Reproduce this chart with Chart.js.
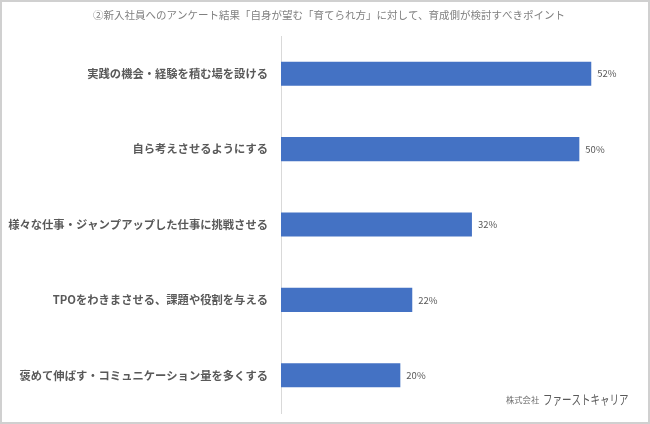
<!DOCTYPE html>
<html lang="ja">
<head>
<meta charset="utf-8">
<script src="https://cdn.jsdelivr.net/npm/chart.js@4"></script>
<style>
  html, body { margin: 0; padding: 0; background: #fff; }
  canvas { display: block; }
</style>
</head>
<body>
<canvas id="chart" width="650" height="424"></canvas>
<script>
// データ
const chartTitle = '②新入社員へのアンケート結果「自身が望む「育てられ方」に対して、育成側が検討すべきポイント';
const categories = [
    '実践の機会・経験を積む場を設ける',
    '自ら考えさせるようにする',
    '様々な仕事・ジャンプアップした仕事に挑戦させる',
    'TPOをわきまさせる、課題や役割を与える',
    '褒めて伸ばす・コミュニケーション量を多くする'
];
const values = [52, 50, 32, 22, 20];
const companySmall = '株式会社';
const companyName = 'ファーストキャリア';

const FONT = '"Noto Sans CJK JP", "Noto Sans", sans-serif';

// タイトル・数値ラベル・ロゴ・枠線を描くプラグイン
const decorPlugin = {
    id: 'decor',
    afterDatasetsDraw(chart) {
        const ctx = chart.ctx;
        const meta = chart.getDatasetMeta(0);
        ctx.save();
        ctx.font = '9.5px ' + FONT;
        ctx.fillStyle = '#595959';
        ctx.textAlign = 'left';
        ctx.textBaseline = 'middle';
        meta.data.forEach((bar, i) => {
            ctx.fillText(values[i] + '%', bar.x + 6, bar.y);
        });
        ctx.restore();
    },
    afterDraw(chart) {
        const ctx = chart.ctx;
        ctx.save();
        // タイトル
        ctx.font = '10.5px ' + FONT;
        ctx.fillStyle = '#808080';
        ctx.textAlign = 'center';
        ctx.textBaseline = 'middle';
        ctx.fillText(chartTitle, 329, 15);
        // ロゴ
        ctx.textAlign = 'left';
        ctx.textBaseline = 'alphabetic';
        ctx.fillStyle = '#6b6b6b';
        ctx.font = '8.3px ' + FONT;
        ctx.fillText(companySmall, 506, 403);
        ctx.font = '13px ' + FONT;
        ctx.fillStyle = '#595959';
        ctx.translate(543, 404);
        ctx.scale(0.73, 1);
        ctx.fillText(companyName, 0, 0);
        ctx.restore();
        // 枠線
        ctx.save();
        ctx.strokeStyle = '#d0d0d0';
        ctx.lineWidth = 2;
        ctx.strokeRect(1, 1, 648, 422);
        ctx.restore();
    }
};

new Chart(document.getElementById('chart'), {
    type: 'bar',
    data: {
        labels: categories,
        datasets: [{
            data: values,
            backgroundColor: '#4472C4',
            borderWidth: 0,
            barPercentage: 0.8,
            categoryPercentage: 0.4
        }]
    },
    options: {
        indexAxis: 'y',
        responsive: false,
        animation: false,
        events: [],
        layout: { padding: { top: 36, right: 11, bottom: 11, left: 0 } },
        plugins: {
            legend: { display: false },
            tooltip: { enabled: false },
            title: { display: false }
        },
        scales: {
            x: {
                display: false,
                min: 0,
                max: 60
            },
            y: {
                afterFit(scale) {
                    scale.width = 281;
                    // ラベル由来の上下余白は不要
                    scale.paddingTop = 0;
                    scale.paddingBottom = 0;
                },
                grid: { display: false, drawTicks: false },
                border: { display: true, color: '#d9d9d9', width: 1 },
                ticks: {
                    color: '#595959',
                    padding: 13,
                    font: { family: FONT, size: 11.3, weight: 'bold' }
                }
            }
        }
    },
    plugins: [decorPlugin]
});
</script>
</body>
</html>
